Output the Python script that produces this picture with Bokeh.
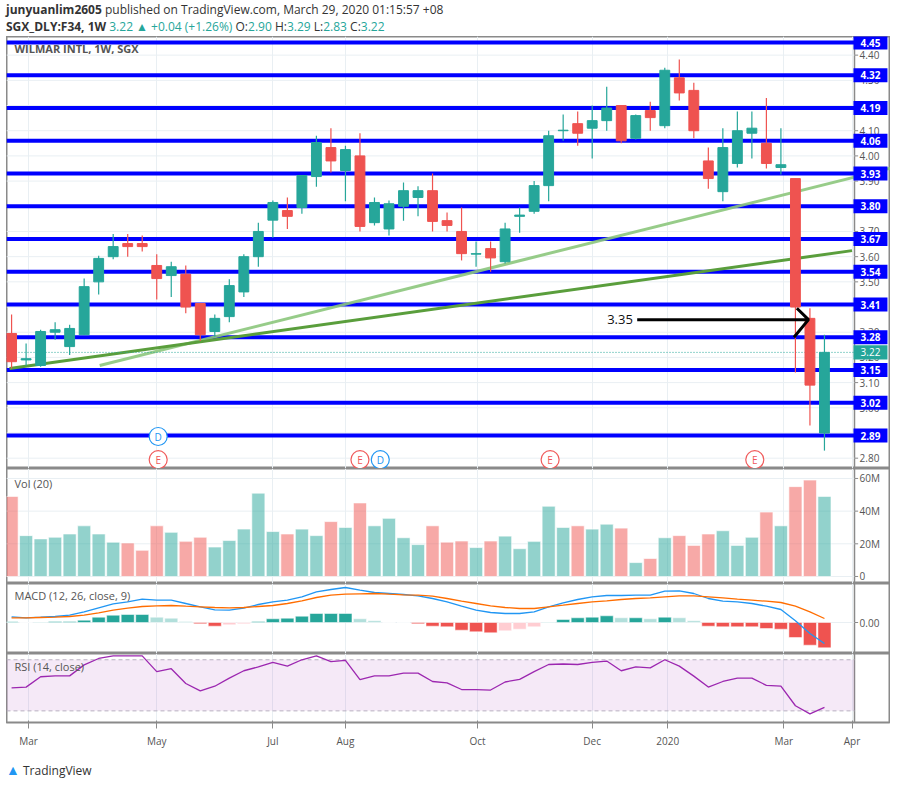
from bokeh.plotting import figure
from bokeh.layouts import column
from bokeh.models import Div, FixedTicker, Range1d
from bokeh.core.properties import value
from bokeh.embed import file_html
from bokeh.resources import INLINE

# ---------------- data ----------------
opens  = [3.295,3.19,3.168,3.30,3.243,3.29,3.50,3.60,3.652,3.652,3.565,3.525,3.53,3.414,3.303,3.362,3.46,3.60,3.745,3.783,
          3.795,3.918,4.033,3.942,4.0,3.735,3.71,3.80,3.835,3.862,3.743,3.70,3.61,3.632,3.58,3.76,3.78,3.882,4.10,4.128,
          4.11,4.14,4.20,4.07,4.18,4.12,4.31,4.26,3.98,3.858,3.97,4.09,4.05,3.954,3.91,3.355,2.90]
highs  = [3.37,3.255,3.31,3.34,3.33,3.513,3.604,3.69,3.69,3.684,3.61,3.58,3.565,3.414,3.37,3.51,3.61,3.735,3.823,3.835,
          3.922,4.08,4.11,4.04,4.09,3.835,3.823,3.894,3.88,3.93,3.775,3.795,3.66,3.66,3.735,3.795,3.90,4.10,4.164,4.176,
          4.20,4.275,4.20,4.164,4.215,4.35,4.383,4.29,4.033,4.11,4.176,4.176,4.23,4.11,3.91,3.395,3.29]
lows   = [3.156,3.167,3.163,3.27,3.21,3.29,3.45,3.59,3.60,3.62,3.43,3.44,3.375,3.265,3.283,3.34,3.44,3.56,3.675,3.71,
          3.77,3.878,3.934,3.82,3.70,3.724,3.684,3.743,3.76,3.70,3.70,3.585,3.56,3.54,3.573,3.695,3.77,3.82,4.06,4.04,
          3.99,4.10,4.05,4.065,4.10,4.11,4.22,4.07,3.87,3.82,3.954,3.99,3.95,3.926,3.14,2.93,2.83]
closes = [3.183,3.195,3.303,3.31,3.315,3.481,3.593,3.64,3.64,3.64,3.513,3.56,3.40,3.29,3.355,3.485,3.60,3.70,3.815,3.76,
          3.922,4.053,3.98,4.025,3.72,3.815,3.81,3.862,3.862,3.74,3.724,3.612,3.612,3.595,3.71,3.765,3.882,4.08,4.102,4.09,
          4.14,4.19,4.06,4.16,4.152,4.34,4.25,4.10,3.91,4.033,4.10,4.11,3.97,3.965,3.40,3.09,3.22]
volumes = [49,25,23,24,26,31,26,21,20.5,16,31,27,21.5,24,18,22,29,51,27.5,26,29,25,33.6,30,45,31,35.6,23.7,19.5,31,
           21,21.7,17.7,21.7,24.7,17,21.5,43,30,31,29,32,29.6,8.5,11,23.7,25,19,26,28,19,24,39.4,31,55,59,49]
macd_line = [5.7,4.7,5.3,6,7.3,10.7,14.7,18.7,20.7,23.3,22.3,22.3,19,15.7,12.7,12.3,14.3,18,20.7,22.3,25.7,30.7,33,35,
             32.3,30,29,28,26.7,24,20.7,16.3,12.3,10,9,9,10.7,15.7,19.7,23,25.7,27,27,27.3,27.3,31.3,31.7,29,24,21.3,
             20.7,19,16.3,13,1.7,-11,-21]
signal_line = [4.7,4.7,5,5.3,6,7.3,9.7,12.3,14.3,16,16.7,17,16.3,15.7,15,14.7,15,16,17,19,21.7,25,27.3,28.3,28.7,29,
               28.3,27.7,27.3,26.3,24,21.3,19,16.7,15,14,14,15.7,17.3,19,20.7,21.7,23,24,24.7,25.7,26.7,26.7,25.7,24.7,
               23.3,22.3,21.3,20,16.3,10.7,4]
macd_hist = [0.7,0,0.3,1,1,2.3,5.3,7.3,8,8,5.3,4.3,1,-1.3,-3.7,-2.3,-1.3,1,3.7,4.3,6.3,9,9,9,3.7,1.7,0,0.1,-1.3,-3.7,
             -4.3,-7.7,-9.3,-10.3,-8.3,-6.7,-4.3,0.3,3,4.7,5.3,6.7,4.7,4.7,3.7,5.3,4.7,1.7,-3.7,-4.3,-4.3,-4.3,-6,-6.7,
             -15,-22.7,-25.3]
rsi = [48,48.6,56.7,57.4,57.4,66,71,73,73,73,60.7,63,51.4,45.6,49.3,55.6,61.4,64.4,68,65,70,73,68.6,69.5,54.4,57.4,
       57.4,59.5,59.5,53,51.9,46.7,46.7,46.3,52.6,54.7,60.7,66.3,66.7,66.3,68,69,61.4,64.4,63.7,70,65,57.2,48.6,53,
       55.6,55.6,50,49.3,34,27.7,32.8]
levels = [4.45,4.32,4.19,4.06,3.93,3.80,3.67,3.54,3.41,3.28,3.15,3.02,2.89]
price_ticks = [2.80,2.90,3.00,3.10,3.20,3.30,3.40,3.50,3.60,3.70,3.80,3.90,4.00,4.10,4.20,4.30,4.40]
last_price = 3.22
month_labels = ["Mar","May","Jul","Aug","Oct","Dec","2020","Mar","Apr"]
month_pos = [1.17,10.0,18.0,23.0,32.1,40.0,45.2,53.2,57.9]
trend_light = ([6.07,60.8],[3.168,3.955])
trend_dark = ([-0.14,57.9],[3.156,3.624])
arrow_price = 3.35
arrow_x = [43.1,54.9]
earn_x = [10.1,24.0,37.1,51.2]
div_x = [10.1,25.4]

N = len(closes)
idx = list(range(N))
X0, X1 = -0.35, 60.55
AX = 58.07
W = 884
FONT = value("Open Sans")
GRID = "#e9eff3"
UP, DN = "#26a69a", "#ef5350"
up = [c >= o for o, c in zip(opens, closes)]

def base(h, y0, y1, xaxis=False):
    p = figure(width=W, height=h, x_range=Range1d(X0, X1), y_range=Range1d(y0, y1),
               output_backend="svg", toolbar_location=None, min_border=0,
               min_border_bottom=(20 if xaxis else 0))
    p.yaxis.visible = False
    p.xaxis.visible = xaxis
    p.ygrid.visible = False
    p.xgrid.ticker = FixedTicker(ticks=month_pos)
    p.xgrid.grid_line_color = GRID
    p.outline_line_color = "#8a8a8a"
    p.outline_line_width = 2
    p.background_fill_color = "white"
    p.segment(x0=[AX], x1=[AX], y0=[y0], y1=[y1], line_color="#8a8a8a", line_width=1.5)
    return p

def ylabels(p, ticks, labels, color="#555"):
    p.segment(x0=[AX]*len(ticks), x1=[AX+0.25]*len(ticks), y0=ticks, y1=ticks, line_color="#8a8a8a")
    p.text(x=[AX+0.35]*len(ticks), y=ticks, text=labels, text_font=FONT, text_font_size="10px",
           text_color=color, text_baseline="middle")

# ---------------- price ----------------
pr = base(432, 2.759, 4.474)
pr.segment(x0=[X0]*len(price_ticks), x1=[AX]*len(price_ticks), y0=price_ticks, y1=price_ticks, line_color=GRID)
ylabels(pr, price_ticks, ["%.2f" % t for t in price_ticks])
pr.segment(x0=[X0]*len(levels), x1=[AX]*len(levels), y0=levels, y1=levels, line_color="#0000ff", line_width=4)
pr.line(trend_light[0], trend_light[1], line_color="#8cc77c", line_width=3, line_alpha=0.9)
pr.line(trend_dark[0], trend_dark[1], line_color="#5a9e3c", line_width=3)
pr.segment(x0=[X0], x1=[AX], y0=[last_price], y1=[last_price], line_color=UP, line_dash="1 2")
cols = [UP if u else DN for u in up]
pr.segment(x0=idx, x1=idx, y0=lows, y1=highs, line_color=cols, line_width=1.2)
pr.vbar(x=idx, width=0.68, top=[max(o, c) for o, c in zip(opens, closes)],
        bottom=[min(o, c) for o, c in zip(opens, closes)], fill_color=cols, line_color=cols)
# arrow
pr.line(arrow_x, [arrow_price]*2, line_color="black", line_width=3)
pr.line([arrow_x[1]-0.8, arrow_x[1], arrow_x[1]-1.0], [arrow_price+0.045, arrow_price, arrow_price-0.07],
        line_color="black", line_width=3)
pr.text(x=[arrow_x[0]-0.3], y=[arrow_price], text=["%.2f" % arrow_price], text_font=FONT, text_font_size="13px",
        text_align="right", text_baseline="middle", text_color="#111")
# level labels
lx = 59.17
pr.rect(x=[lx]*len(levels), y=levels, width=2.34, height=0.056, fill_color="#0000ff", line_color=None)
pr.text(x=[lx]*len(levels), y=levels, text=["%.2f" % l for l in levels], text_font=FONT, text_font_size="10px",
        text_color="white", text_align="center", text_baseline="middle", text_font_style="bold")
pr.rect(x=[lx], y=[last_price], width=2.34, height=0.056, fill_color=UP, line_color=None)
pr.text(x=[lx], y=[last_price], text=["%.2f" % last_price], text_font=FONT, text_font_size="10px",
        text_color="white", text_align="center", text_baseline="middle")
# events
pr.scatter(x=earn_x, y=[2.794]*len(earn_x), size=18, fill_color="white", line_color="#f05a5a", line_width=1.2)
pr.text(x=earn_x, y=[2.794]*len(earn_x), text=["E"]*len(earn_x), text_font=FONT, text_font_size="10px",
        text_color="#f05a5a", text_align="center", text_baseline="middle")
dy = [2.886, 2.794]
pr.scatter(x=div_x, y=dy, size=18, fill_color="white", line_color="#2196f3", line_width=1.2)
pr.text(x=div_x, y=dy, text=["D", "D"], text_font=FONT, text_font_size="10px",
        text_color="#2196f3", text_align="center", text_baseline="middle")
pr.text(x=[0.2], y=[4.425], text=["WILMAR INTL, 1W, SGX"], text_font=FONT, text_font_size="11px",
        text_color="#555", text_baseline="middle", text_font_style="bold")

# ---------------- volume ----------------
pv = base(115, -4.3, 66.1)
vt = [0, 20, 40, 60]
pv.segment(x0=[X0]*4, x1=[AX]*4, y0=vt, y1=vt, line_color=GRID)
ylabels(pv, vt, ["0", "20M", "40M", "60M"])
pv.vbar(x=idx, width=0.9, top=volumes, bottom=0, fill_color=cols, fill_alpha=0.5, line_color="white", line_alpha=0.6)
pv.text(x=[0.2], y=[57], text=["Vol (20)"], text_font=FONT, text_font_size="11px", text_color="#555",
        text_baseline="middle")

# ---------------- MACD ----------------
pm = base(70, -31, 39)
pm.segment(x0=[X0], x1=[AX], y0=[0], y1=[0], line_color=GRID)
ylabels(pm, [0], ["0.00"])
hcols = []
for i, h in enumerate(macd_hist):
    prev = macd_hist[i-1] if i > 0 else 0
    if h >= 0:
        hcols.append(UP if h >= prev else "#b2dfdb")
    else:
        hcols.append(DN if h <= prev else "#ffcdd2")
pm.vbar(x=idx, width=0.9, top=macd_hist, bottom=0, fill_color=hcols, line_color="white", line_alpha=0.5)
pm.line(idx, macd_line, line_color="#2196f3", line_width=1.3)
pm.line(idx, signal_line, line_color="#ff6d00", line_width=1.3)
pm.text(x=[0.2], y=[27], text=["MACD (12, 26, close, 9)"], text_font=FONT, text_font_size="11px",
        text_color="#555", text_baseline="middle")

# ---------------- RSI ----------------
prsi = base(97, 20.9, 74.9, xaxis=True)
prsi.quad(left=[X0], right=[AX], bottom=[30], top=[70], fill_color="#9c27b0", fill_alpha=0.1, line_color=None)
prsi.segment(x0=[X0]*2, x1=[AX]*2, y0=[30, 70], y1=[30, 70], line_color="#b8b0c0", line_dash="4 3")
prsi.line(idx, rsi, line_color="#9c27b0", line_width=1.3)
prsi.text(x=[0.2], y=[65], text=["RSI (14, close)"], text_font=FONT, text_font_size="11px",
          text_color="#555", text_baseline="middle")
prsi.xaxis.ticker = FixedTicker(ticks=month_pos)
prsi.xaxis.major_label_overrides = {p_: l for p_, l in zip(month_pos, month_labels)}
prsi.xaxis.major_label_text_font = "Open Sans"
prsi.xaxis.major_label_text_font_size = "10px"
prsi.xaxis.major_label_text_color = "#555"
prsi.xaxis.axis_line_color = "#8a8a8a"
prsi.xaxis.major_tick_line_color = "#8a8a8a"
prsi.xaxis.minor_tick_line_color = None

header = Div(text=(
    "<div style='font-family:Open Sans;font-size:12px;color:#333;line-height:17px;padding-top:1px'>"
    "<b>junyuanlim2605</b> published on TradingView.com, March 29, 2020 01:15:57 +08<br>"
    "<b>SGX_DLY:F34, 1W</b> <span style='color:#26a69a'>3.22 &#9650; +0.04 (+1.26%)</span> "
    "O:<span style='color:#26a69a'>2.90</span> H:<span style='color:#26a69a'>3.29</span> "
    "L:<span style='color:#26a69a'>2.83</span> C:<span style='color:#26a69a'>3.22</span></div>"),
    width=W, height=36, margin=(0, 0, 0, 0))
footer = Div(text=(
    "<div style='font-family:Open Sans;font-size:12px;color:#333;margin-top:10px'>"
    "<span style='color:#2196f3;font-size:14px'>&#9650;</span> TradingView</div>"),
    width=W, height=28, margin=(0, 0, 0, 0))

layout = column(header, pr, pv, pm, prsi, footer, spacing=0, margin=(0, 0, 0, 6))
open("out.html", "w").write(file_html(layout, INLINE))
